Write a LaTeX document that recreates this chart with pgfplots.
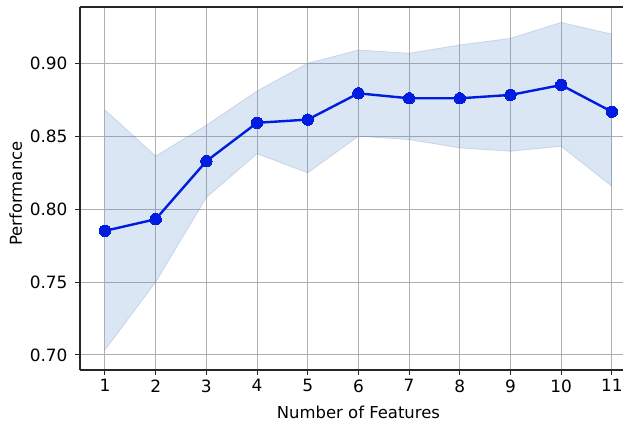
\documentclass[border=0pt]{standalone}
\usepackage{fontspec}
\setmainfont{DejaVu Sans}
\usepackage{pgfplots}
\usepackage{pgfplotstable}
\pgfplotsset{compat=1.18}
\usepgfplotslibrary{fillbetween}
\definecolor{lineblue}{RGB}{0,28,222}
\definecolor{bandblue}{RGB}{70,130,195}
\definecolor{bandedge}{RGB}{60,110,170}
\definecolor{gridgray}{RGB}{176,176,176}
\pgfplotstableread{
x mean up lo
1 0.7851 0.8680 0.7034
2 0.7931 0.8364 0.7500
3 0.8329 0.8575 0.8080
4 0.8592 0.8810 0.8380
5 0.8614 0.9000 0.8249
6 0.8794 0.9091 0.8500
7 0.8760 0.9069 0.8477
8 0.8760 0.9126 0.8420
9 0.8783 0.9171 0.8397
10 0.8851 0.9280 0.8431
11 0.8668 0.9200 0.8157
}\perf
\begin{document}
\begin{tikzpicture}
\begin{axis}[
  scale only axis, width=543bp, height=363bp,
  xmin=0.507, xmax=11.22, ymin=0.6897, ymax=0.9386,
  axis x line=box, axis y line*=left,
  xtick pos=lower, ytick pos=left,
  xtick={1,2,3,4,5,6,7,8,9,10,11},
  ytick={0.70,0.75,0.80,0.85,0.90},
  yticklabels={0.70,0.75,0.80,0.85,0.90},
  /pgf/number format/assume math mode=true,
  tick align=outside, major tick length=5bp,
  tick style={black!85, line width=1bp},
  axis line style={black!85, line width=1.2bp},
  grid=major, grid style={gridgray, line width=1bp},
  ticklabel style={font=\fontsize{17}{20}\selectfont},
  yticklabel style={xshift=-4bp},
  xticklabel style={yshift=-1bp},
  label style={font=\fontsize{16.5}{20}\selectfont},
  xlabel={Number of Features}, ylabel={Performance},
  xlabel style={at={(axis description cs:0.5128,0)}, anchor=base, yshift=-48bp},
  ylabel style={at={(axis description cs:0,0.5)}, anchor=base, yshift=58bp, xshift=-5bp},
]
\addplot[name path=up, draw=bandedge, draw opacity=0.2, line width=0.8bp] table[x=x, y=up] {\perf};
\addplot[name path=lo, draw=bandedge, draw opacity=0.2, line width=0.8bp] table[x=x, y=lo] {\perf};
\addplot[fill=bandblue, fill opacity=0.2, draw=none] fill between[of=up and lo];
\addplot[lineblue, line width=2.4bp, mark=*, mark size=5.7bp, mark options={fill=lineblue, draw=lineblue, line width=0pt}] table[x=x, y=mean] {\perf};
\end{axis}
\pgfresetboundingbox
\path[use as bounding box] (-80bp,-51bp) rectangle (543bp,370bp);
\end{tikzpicture}
\end{document}
